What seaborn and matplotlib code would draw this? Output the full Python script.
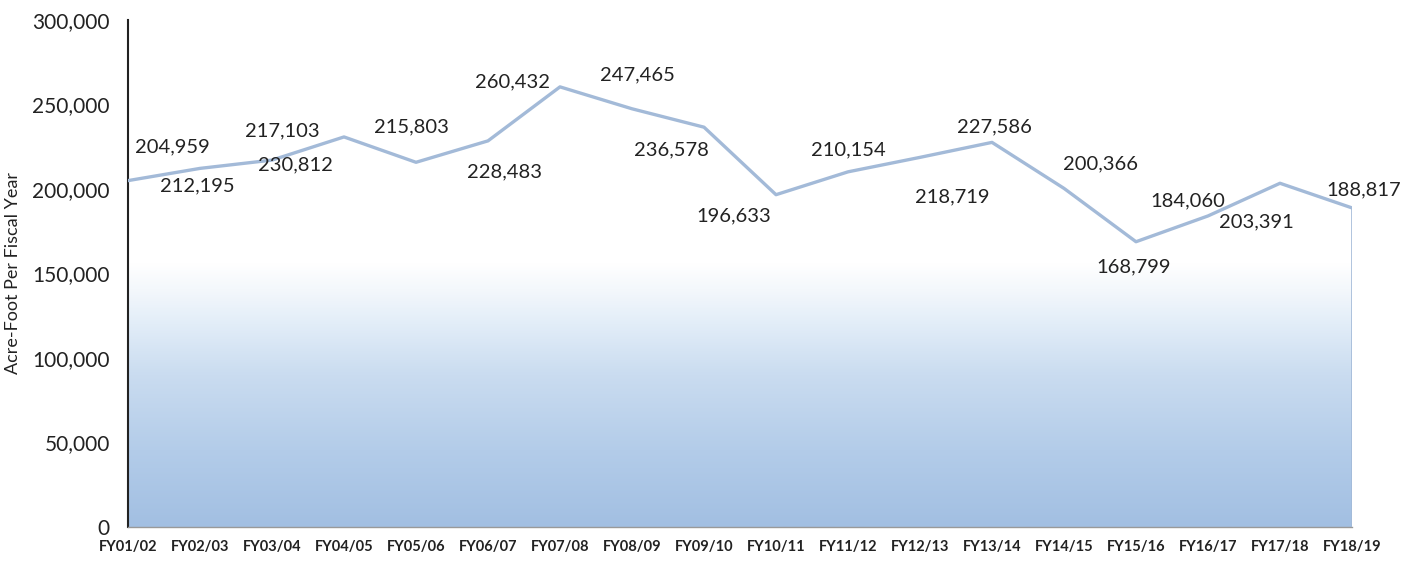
import numpy as np
import pandas as pd
import matplotlib
matplotlib.use("Agg")
import matplotlib.pyplot as plt
import seaborn as sns
from matplotlib.colors import LinearSegmentedColormap

years = ["FY01/02", "FY02/03", "FY03/04", "FY04/05", "FY05/06", "FY06/07",
         "FY07/08", "FY08/09", "FY09/10", "FY10/11", "FY11/12", "FY12/13",
         "FY13/14", "FY14/15", "FY15/16", "FY16/17", "FY17/18", "FY18/19"]
acre_feet = [204959, 212195, 217103, 230812, 215803, 228483,
             260432, 247465, 236578, 196633, 210154, 218719,
             227586, 200366, 168799, 184060, 203391, 188817]
y_ticks = [0, 50000, 100000, 150000, 200000, 250000, 300000]

# label offsets in pixels (dx, dy) relative to each point
label_offsets = [(44, 34), (-3, -17), (10, 29), (-49, -28), (-5, 35), (17, -31),
                 (-48, 5), (5, 34), (-33, -23), (-42, -21), (0, 22), (32, -40),
                 (2, 16), (36, 25), (-2, -25), (-20, 15), (-24, -39), (12, 18)]

sns.set_style("white")
plt.rcParams["font.family"] = ["Lato", "DejaVu Sans"]

df = pd.DataFrame({"idx": np.arange(len(years)), "value": acre_feet})

fig = plt.figure(figsize=(14.04, 5.62), dpi=100)
ax = fig.add_axes([128 / 1404, 1 - 527 / 562, (1352 - 128) / 1404, (527 - 20) / 562])

x = df["idx"].values
poly = ax.fill_between(x, df["value"].values, 0, color="none", lw=0)
cmap = LinearSegmentedColormap.from_list(
    "grad", [(0.0, "#a2bfe2"), (0.15, "#b3cce9"), (0.3, "#cadcf0"),
             (0.4, "#e2edf8"), (0.47, "#f4f8fc"), (0.52, "#ffffff"), (1.0, "#ffffff")])
grad = np.linspace(0, 1, 256).reshape(-1, 1)
im = ax.imshow(grad, extent=[x[0], x[-1], 0, 300000], origin="lower",
               aspect="auto", cmap=cmap, zorder=1)
im.set_clip_path(poly.get_paths()[0], transform=ax.transData)

sns.lineplot(data=df, x="idx", y="value", ax=ax, color="#a3bad8", lw=2.4, zorder=3)
ax.plot([x[-1], x[-1]], [0, acre_feet[-1]], color="#a3bad8", lw=1.2, zorder=3)

for i, v in enumerate(acre_feet):
    dx, dy = label_offsets[i]
    ax.annotate(f"{v:,}", (x[i], v), xytext=(dx, dy), textcoords="offset pixels",
                ha="center", va="center", fontsize=14.5, color="#222222", zorder=4)

ax.set_xlim(x[0], x[-1])
ax.set_ylim(0, 300000)
ax.set_yticks(y_ticks)
ax.set_yticklabels([f"{t:,}" for t in y_ticks], fontsize=15, color="#222222")
ax.set_xticks(x)
ax.set_xticklabels(years, fontsize=10.5, fontweight="bold", color="#222222")
ax.tick_params(axis="y", length=0, pad=13)
ax.tick_params(axis="x", length=0, pad=9)
ax.set_xlabel("")
ax.set_ylabel("Acre-Foot Per Fiscal Year", fontsize=13, color="#222222", labelpad=8)

for s in ["top", "right"]:
    ax.spines[s].set_visible(False)
ax.spines["left"].set_color("#222222")
ax.spines["left"].set_linewidth(1.5)
ax.spines["left"].set_bounds(0, 300000)
ax.spines["bottom"].set_color("#999999")
ax.spines["bottom"].set_linewidth(1)

fig.savefig("out.png", dpi=100)
